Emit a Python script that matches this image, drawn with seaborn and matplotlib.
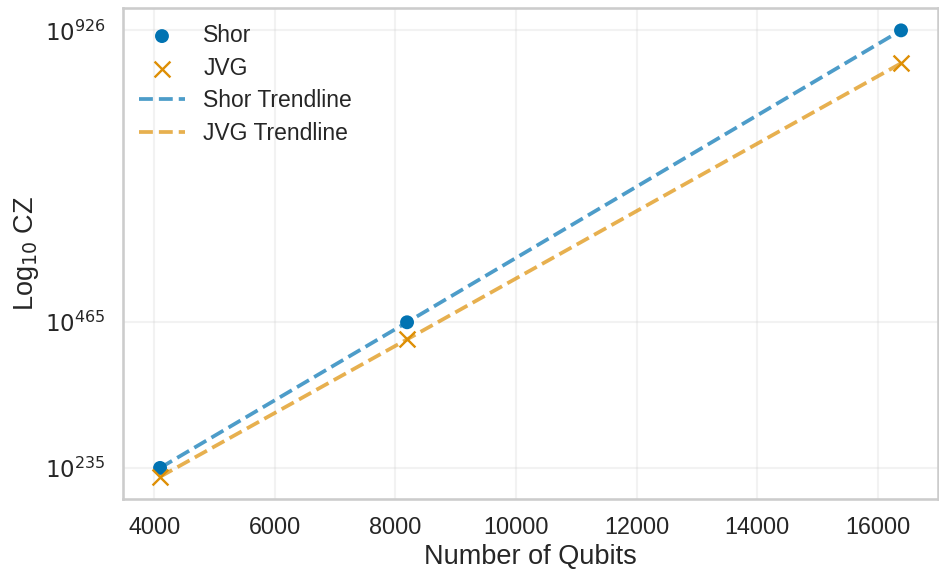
import numpy as np
import pandas as pd
import matplotlib
matplotlib.use("Agg")
import matplotlib.pyplot as plt
from matplotlib.ticker import FixedLocator, FuncFormatter
import seaborn as sns

qubits = [4096, 8192, 16384]
shor_log10_cz = [235, 465, 926]
jvg_log10_cz = [221, 438, 874]
ytick_values = [235, 465, 926]

sns.set_theme(style="whitegrid", context="talk", palette="colorblind")
plt.rcParams['font.family'] = ['Liberation Sans', 'DejaVu Sans']

colors = sns.color_palette("colorblind")
blue, orange = colors[0], colors[1]

fig, ax = plt.subplots(figsize=(9.39, 5.75), dpi=100)

df = pd.DataFrame({"qubits": qubits, "shor": shor_log10_cz, "jvg": jvg_log10_cz})

sns.scatterplot(data=df, x="qubits", y="shor", ax=ax, color=blue, s=100,
                marker="o", edgecolor="none", label="Shor", zorder=3)
sns.scatterplot(data=df, x="qubits", y="jvg", ax=ax, color=orange, s=130,
                marker="x", linewidth=1.7, label="JVG", zorder=3)
sns.lineplot(data=df, x="qubits", y="shor", ax=ax, color=blue, alpha=0.7,
             linestyle="--", linewidth=2.7, label="Shor Trendline")
sns.lineplot(data=df, x="qubits", y="jvg", ax=ax, color=orange, alpha=0.7,
             linestyle="--", linewidth=2.7, label="JVG Trendline")

ax.yaxis.set_major_locator(FixedLocator(ytick_values))
ax.yaxis.set_major_formatter(FuncFormatter(lambda v, p: r"$10^{%d}$" % round(v)))
ax.set_xlabel("Number of Qubits", fontsize=19.5, labelpad=3)
ax.set_ylabel(r"Log$_{10}$ CZ", fontsize=19.5, labelpad=3)
ax.tick_params(axis="x", labelsize=16.8)
ax.tick_params(axis="y", labelsize=16.5)
ax.grid(True, alpha=0.25)

ax.legend(loc="upper left", frameon=False, fontsize=16.5,
          borderaxespad=0.3, handlelength=2.0, labelspacing=0.42,
          handletextpad=0.8)

fig.subplots_adjust(left=0.131, right=0.999, top=0.986, bottom=0.132)
fig.savefig("out.png", dpi=100)
